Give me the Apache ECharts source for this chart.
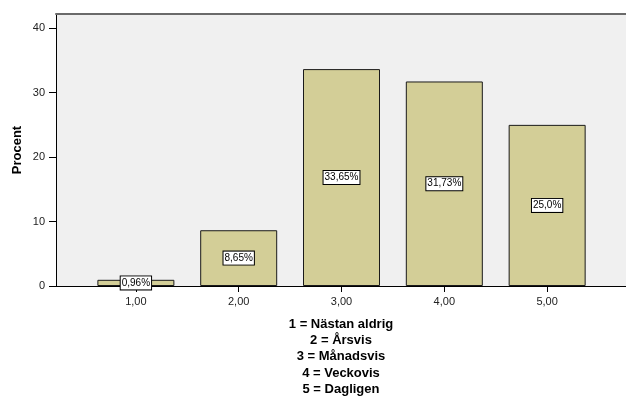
<!DOCTYPE html>
<html>
<head>
<meta charset="utf-8">
<script src="https://cdn.jsdelivr.net/npm/echarts@6/dist/echarts.min.js"></script>
<style>
  html, body { margin: 0; padding: 0; background: #fff; }
  #chart { width: 626px; height: 396px; }
</style>
</head>
<body>
<div id="chart"></div>
<script>
// Response codes and the share of answers for each one (percent)
const codes = [1, 2, 3, 4, 5];
const percents = [0.96, 8.65, 33.65, 31.73, 25.0];
const codeLegend = [
  '1 = Nästan aldrig',
  '2 = Årsvis',
  '3 = Månadsvis',
  '4 = Veckovis',
  '5 = Dagligen'
];
const yTicks = [0, 10, 20, 30, 40];

const FONT = 'Arial, "Liberation Sans", sans-serif';

// Swedish decimal comma; a trailing zero is dropped (25,00 -> 25,0)
function pctLabel(v) {
  let s = v.toFixed(2);
  if (s.endsWith('0')) s = s.slice(0, -1);
  return s.replace('.', ',') + '%';
}

const chart = echarts.init(document.getElementById('chart'), null, { renderer: 'canvas' });

chart.setOption({
  animation: false,
  grid: {
    left: 56, right: 0, top: 14, bottom: 110,
    outerBoundsMode: 'none',
    containLabel: false,
    show: true, backgroundColor: '#f0f0f0', borderWidth: 0
  },
  xAxis: [{
    type: 'value',
    min: 0.223, max: 5.767,
    position: 'bottom',
    splitLine: { show: false },
    axisLine: { show: true, lineStyle: { color: '#000', width: 1 } },
    axisTick: { show: true, length: 6, customValues: codes, lineStyle: { color: '#000' } },
    axisLabel: {
      customValues: codes, margin: 10,
      color: '#222', fontFamily: FONT, fontSize: 11,
      formatter: v => v.toFixed(2).replace('.', ',')
    },
    name: codeLegend.join('\n'),
    nameLocation: 'middle',
    nameGap: 30,
    nameMoveOverlap: false,
    nameTextStyle: {
      color: '#000', fontFamily: FONT, fontSize: 13, fontWeight: 'bold',
      lineHeight: 16.3, align: 'center', verticalAlign: 'top'
    }
  }, {
    type: 'value',
    min: 0.223, max: 5.767,
    position: 'top',
    splitLine: { show: false },
    axisLine: { show: true, lineStyle: { color: '#6a6a6a', width: 2 } },
    axisTick: { show: false },
    axisLabel: { show: false }
  }],
  yAxis: {
    type: 'value',
    min: 0, max: 42.2, interval: 10,
    splitLine: { show: false },
    axisLine: { show: true, lineStyle: { color: '#000', width: 1 } },
    axisTick: { show: true, length: 7, customValues: yTicks, lineStyle: { color: '#000' } },
    axisLabel: {
      customValues: yTicks, margin: 11,
      color: '#222', fontFamily: FONT, fontSize: 11
    },
    name: 'Procent',
    nameLocation: 'middle',
    nameGap: 32,
    nameMoveOverlap: false,
    nameTextStyle: { color: '#000', fontFamily: FONT, fontSize: 13, fontWeight: 'bold' }
  },
  series: [{
    type: 'bar',
    xAxisIndex: 0,
    data: codes.map((c, i) => [c, percents[i]]),
    barWidth: 77,
    itemStyle: { color: '#d3ce97', borderColor: '#1a1a1a', borderWidth: 1 },
    label: {
      show: true,
      position: 'inside',
      formatter: p => pctLabel(p.value[1]),
      color: '#000',
      fontFamily: FONT,
      fontSize: 10,
      backgroundColor: '#fff',
      borderColor: '#000',
      borderWidth: 1,
      padding: [2, 1, 1, 1]
    }
  }]
});
</script>
</body>
</html>
